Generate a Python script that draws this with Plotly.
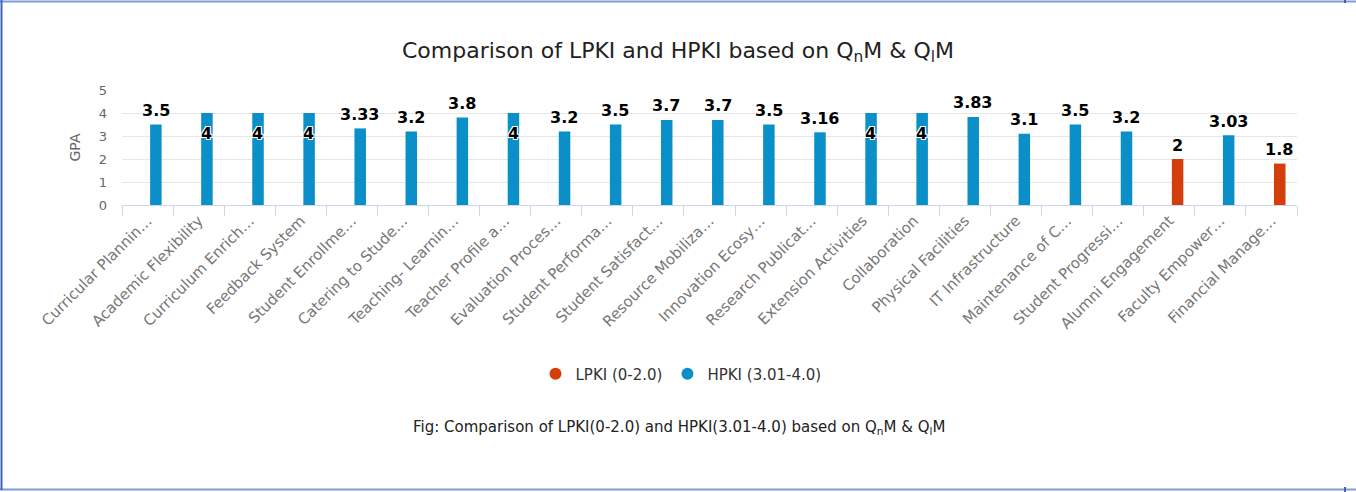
import plotly.graph_objects as go

categories = [
    "Curricular Plannin…", "Academic Flexibility", "Curriculum Enrich…", "Feedback System",
    "Student Enrollme…", "Catering to Stude…", "Teaching- Learnin…", "Teacher Profile a…",
    "Evaluation Proces…", "Student Performa…", "Student Satisfact…", "Resource Mobiliza…",
    "Innovation Ecosy…", "Research Publicat…", "Extension Activities", "Collaboration",
    "Physical Facilities", "IT Infrastructure", "Maintenance of C…", "Student Progressi…",
    "Alumni Engagement", "Faculty Empower…", "Financial Manage…",
]
hpki = [3.5, 4, 4, 4, 3.33, 3.2, 3.8, 4, 3.2, 3.5, 3.7, 3.7, 3.5, 3.16, 4, 4, 3.83,
        3.1, 3.5, 3.2, None, 3.03, None]
lpki = [None] * 20 + [2, None, 1.8]
y_ticks = [0, 1, 2, 3, 4, 5]

BLUE = "#0A8FC9"
RED = "#D43E0A"
FONT = "DejaVu Sans"

# plot area geometry (pixels)
L, R, T, B = 122, 1297, 90, 205
PW, PH = R - L, B - T

def px(x):
    return (x - L) / PW

def py(y):
    return (B - y) / PH

fig = go.Figure()
for name, vals, col in [("LPKI (0-2.0)", lpki, RED), ("HPKI (3.01-4.0)", hpki, BLUE)]:
    fig.add_trace(go.Bar(
        x=categories, y=vals, name=name, marker=dict(color=col, line=dict(width=0)),
        width=0.225, offset=0.05, showlegend=False, hoverinfo="x+y",
    ))
for name, col in [("LPKI (0-2.0)", RED), ("HPKI (3.01-4.0)", BLUE)]:
    fig.add_trace(go.Scatter(
        x=[categories[0]], y=[None], mode="markers", name=name,
        marker=dict(color=col, size=15, symbol="circle"), showlegend=True,
    ))

annotations = []
for vals in (hpki, lpki):
    for c, v in zip(categories, vals):
        if v is None:
            continue
        inside = v >= 4
        annotations.append(dict(
            x=c, y=v, xref="x", yref="y", text=f"<b>{v:g}</b>", showarrow=False,
            xshift=8, yshift=-20 if inside else 14, yanchor="middle",
            font=dict(family=FONT, size=16, color="#000000",
                      shadow="1px 1px 0 #fff, -1px -1px 0 #fff, 1px -1px 0 #fff, -1px 1px 0 #fff"),
        ))
annotations.append(dict(
    x=px(679), y=py(427), xref="paper", yref="paper", showarrow=False,
    text="Fig: Comparison of LPKI(0-2.0) and HPKI(3.01-4.0) based on Q<sub>n</sub>M & Q<sub>l</sub>M",
    font=dict(family=FONT, size=15, color="#222222"), xanchor="center", yanchor="middle",
))

shapes = [
    dict(type="line", xref="paper", yref="paper", x0=px(0), x1=px(1356), y0=py(1.5), y1=py(1.5),
         line=dict(color="#7F9BD3", width=2)),
    dict(type="line", xref="paper", yref="paper", x0=px(0), x1=px(1356), y0=py(489.5), y1=py(489.5),
         line=dict(color="#7F9BD3", width=2)),
    dict(type="line", xref="paper", yref="paper", x0=px(1.5), x1=px(1.5), y0=py(0), y1=py(490),
         line=dict(color="#3E63B8", width=2)),
    dict(type="line", xref="paper", yref="paper", x0=px(1345), x1=px(1345), y0=py(0), y1=py(3),
         line=dict(color="#3E63B8", width=2)),
    dict(type="line", xref="paper", yref="paper", x0=px(1345), x1=px(1345), y0=py(487), y1=py(492),
         line=dict(color="#3E63B8", width=2)),
]

fig.update_layout(
    width=1356, height=492,
    margin=dict(l=L, r=1356 - R, t=T, b=492 - B),
    paper_bgcolor="#ffffff", plot_bgcolor="#ffffff",
    barmode="overlay",
    title=dict(
        text="Comparison of LPKI and HPKI based on Q<sub>n</sub>M & Q<sub>l</sub>M",
        x=0.5, xanchor="center", y=1 - 50 / 492, yanchor="middle",
        font=dict(family=FONT, size=22, color="#222222"),
    ),
    font=dict(family=FONT, color="#666666"),
    xaxis=dict(
        type="category", tickangle=-45, tickfont=dict(size=15, color="#777777"),
        showline=True, linecolor="#CCD6EB", linewidth=1,
        ticks="outside", tickson="boundaries", ticklen=10, tickcolor="#CCD6EB",
        showgrid=False, range=[-0.5, len(categories) - 0.5], fixedrange=True,
    ),
    yaxis=dict(
        range=[0, 5], tickvals=y_ticks, tickfont=dict(size=13, color="#666666"),
        gridcolor="#E6E6E6", gridwidth=1, zeroline=False, showline=False,
        ticklabelstandoff=14,
        title=dict(text="GPA", font=dict(size=14, color="#666666"), standoff=14),
    ),
    legend=dict(
        orientation="h", x=px(681), xanchor="center", y=py(374), yanchor="middle",
        font=dict(family=FONT, size=15, color="#333333"), itemsizing="constant",
    ),
    annotations=annotations,
    shapes=shapes,
)

fig.write_html(
    "out.html",
    config={"displayModeBar": False},
    post_script="document.body.style.margin='0';document.body.style.overflow='hidden';",
)
